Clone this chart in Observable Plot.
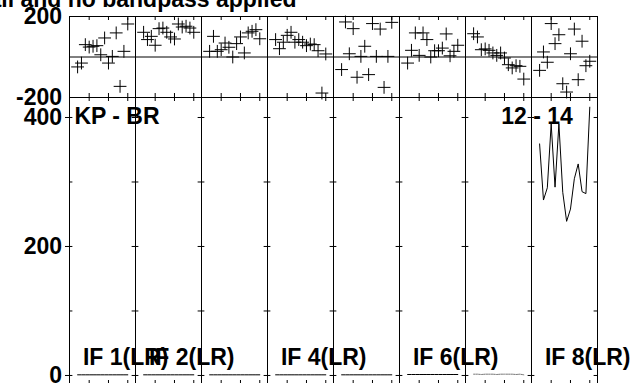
<!DOCTYPE html>
<html><head><meta charset="utf-8">
<script src="https://cdn.jsdelivr.net/npm/d3@7"></script>
<script src="https://cdn.jsdelivr.net/npm/@observablehq/plot@0.6"></script>
<style>
html,body{margin:0;padding:0;background:#fff;}
body{width:636px;height:383px;overflow:hidden;position:relative;font-family:"Liberation Sans",Arial,sans-serif;}
#title{position:absolute;right:339.5px;top:-12.5px;font-weight:bold;font-size:23px;line-height:23px;white-space:nowrap;color:#000;}
.layer{position:absolute;left:0;top:0;}
</style></head><body>
<div id="title">Calibrated with CL table 1, flags applied to all and no bandpass applied</div>
<div id="amp" class="layer"></div>
<div id="phs" class="layer"></div>
<script>
// ---- data ----
const ifNames = ["IF 1","IF 2","IF 3","IF 4","IF 5","IF 6","IF 7","IF 8"];
const channels = [2,3,4,5,6,7,8,9,10,11,12,13,14,15];
const channelTicks = [5,10,15];
const phaseTicks = [-200,200];
const ampTicks = [0,100,200,300,400];
const ampTickLabels = [0,200,400];
const labeledIFs = ["IF 1","IF 2","IF 4","IF 6","IF 8"];
const baselineLabel = "KP - BR";
const timeLabel = "12 - 14";

const phaseIF1 = [-49,-30,61,49,53,56,11,94,-30,3,119,-145,28,163];
const phaseIF2 = [122,86,102,58,140,143,122,99,89,163,148,152,143,122];
const phaseIF3 = [28,102,28,36,69,48,0,66,99,20,119,127,135,90];
const phaseIF4 = [86,41,73,107,122,73,86,73,56,64,61,31,-178,15];
const phaseIF5 = [-62,173,16,140,-100,3,53,-87,165,3,138,-150,3,171];
const phaseIF6 = [-30,33,119,8,119,86,0,31,31,44,114,6,28,58];
const phaseIF7 = [115,99,36,40,33,20,8,20,-5,-38,-54,-43,-46,-109];
const phaseIF8 = [-66,25,-26,165,66,110,-132,-173,16,138,-112,78,-43,-21];

const ampIF1 = [1,1,1,1,1,1,1,1,1,1,1,1,1,1];
const ampIF2 = [1,1,1,1,1,1,1,1,1,1,1,1,1,1];
const ampIF3 = [1,1,1,1,1,1,1,1,1,1,1,1,1,1];
const ampIF4 = [1,1,1,1,1,1,1,1,1,1,1,1,1,1];
const ampIF5 = [1,1,1,1,1,1,1,1,1,1,1,1,1,1];
const ampIF6 = [1.5,1.5,1.5,1.5,1.5,1.5,1.5,1.5,1.5,1.5,1.5,1.5,1.5,1.5];
const ampIF7 = [2,2,1.5,2,2,2,1.5,2,2,2,2,1.5,2,1];
const ampIF8 = [359,272,291,390,292,390,284,239,258,305,328,285,282,416];

const phaseSeries = [phaseIF1,phaseIF2,phaseIF3,phaseIF4,phaseIF5,phaseIF6,phaseIF7,phaseIF8];
const ampSeries = [ampIF1,ampIF2,ampIF3,ampIF4,ampIF5,ampIF6,ampIF7,ampIF8];

const phaseData = [], ampData = [];
ifNames.forEach((name, i) => {
  channels.forEach((ch, j) => {
    phaseData.push({if: name, ch, phase: phaseSeries[i][j]});
    ampData.push({if: name, ch, amp: ampSeries[i][j]});
  });
});

// ---- layout ----
const W = 636, mL = 66.7, mR = 36.3;
const facetW = (W - mL - mR) / ifNames.length;
const font = "'Liberation Sans', Arial, Helvetica, sans-serif";
const common = {
  width: W, marginLeft: mL, marginRight: mR,
  style: {background: "transparent", fontFamily: font, fontWeight: "bold", fontSize: "23px", color: "black", overflow: "visible"},
  fx: {domain: ifNames, padding: 0, axis: null},
  x: {domain: [-0.1, 17], axis: null}
};

// phase panel
const topH = 110, topMT = 16, topMB = 13;
const topInner = topH - topMT - topMB;
const phasePlot = Plot.plot({
  ...common,
  height: topH, marginTop: topMT, marginBottom: topMB,
  y: {domain: [-200, 200], ticks: phaseTicks, tickSize: 0, tickPadding: 7.4, tickFormat: d => String(d), label: null},
  marks: [
    Plot.frame({stroke: "black", strokeWidth: 1}),
    Plot.ruleY([0], {stroke: "black", strokeWidth: 1}),
    Plot.tickX(channelTicks, {x: d => d, insetBottom: topInner - 4, stroke: "black"}),
    Plot.tickX(channelTicks, {x: d => d, insetTop: topInner - 4, stroke: "black"}),
    Plot.dot(phaseData, {x: "ch", y: "phase", fx: "if", symbol: "plus", r: 4.2, stroke: "black", strokeWidth: 1})
  ]
});

// amplitude panel
const botH = 392, botMT = 97, botMB = 8;
const botInner = botH - botMT - botMB;
const ampPlot = Plot.plot({
  ...common,
  height: botH, marginTop: botMT, marginBottom: botMB,
  y: {domain: [-14, 431], ticks: ampTickLabels, tickSize: 4, tickPadding: 3.4, tickFormat: d => String(d), label: null},
  marks: [
    Plot.frame({stroke: "black", strokeWidth: 1}),
    Plot.tickY(ampTicks, {y: d => d, insetRight: facetW - 4, stroke: "black"}),
    Plot.tickY(ampTicks, {y: d => d, insetLeft: facetW - 4, stroke: "black"}),
    Plot.tickX(channelTicks, {x: d => d, insetBottom: botInner - 4, stroke: "black"}),
    Plot.tickX(channelTicks, {x: d => d, insetTop: botInner - 4, stroke: "black"}),
    Plot.line(ampData.filter(d => d.if !== "IF 7"), {x: "ch", y: "amp", fx: "if", z: "if", stroke: "black", strokeWidth: 1}),
    Plot.line(ampData.filter(d => d.if === "IF 7"), {x: "ch", y: "amp", fx: "if", z: "if", stroke: "#777", strokeWidth: 1, strokeDasharray: "1.5,1"}),
    Plot.text([ifNames[0]], {fx: d => d, text: () => baselineLabel, frameAnchor: "top-left", lineAnchor: "top", textAnchor: "start", dx: 4.9, dy: 10.3, fontSize: 23, fontWeight: "bold", fontFamily: font, fill: "black"}),
    Plot.text([ifNames[7]], {fx: d => d, text: () => timeLabel, frameAnchor: "top-right", lineAnchor: "top", textAnchor: "end", dx: -24.7, dy: 10.3, fontSize: 23, fontWeight: "bold", fontFamily: font, fill: "black"}),
    Plot.text(labeledIFs, {fx: d => d, text: d => d + "(LR)", frameAnchor: "bottom-left", lineAnchor: "top", textAnchor: "start", dx: 13.4, dy: -36.3, fontSize: 23, fontWeight: "bold", fontFamily: font, fill: "black"})
  ]
});

document.getElementById("amp").appendChild(ampPlot);
document.getElementById("phs").appendChild(phasePlot);
</script>
</body></html>
